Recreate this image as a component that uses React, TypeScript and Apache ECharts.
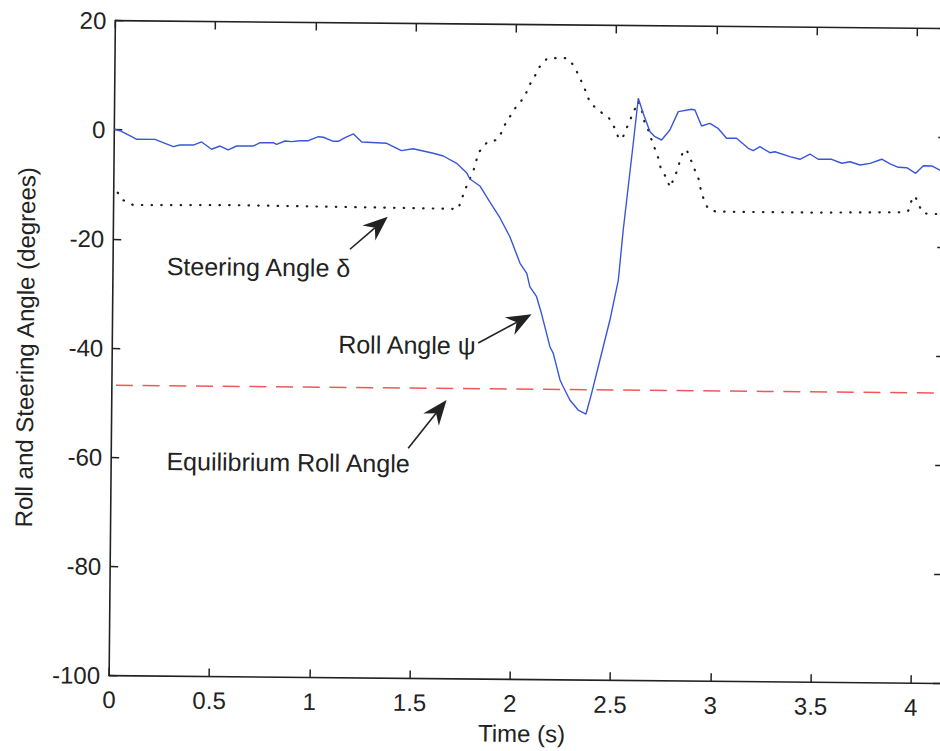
import React, { useEffect, useRef } from 'react';
import * as echarts from 'echarts';

const FONT = "'Liberation Sans', Arial, Helvetica, sans-serif";

// Roll angle ψ (solid blue)
const rollTime = [0, 0.028, 0.087, 0.112, 0.203, 0.295, 0.328, 0.395, 0.436, 0.486, 0.528, 0.569, 0.611, 0.694, 0.728, 0.793, 0.81, 0.852, 0.885, 0.926, 0.968, 1.018, 1.043, 1.093, 1.118, 1.151, 1.193, 1.235, 1.359, 1.433, 1.491, 1.592, 1.642, 1.709, 1.759, 1.776, 1.826, 1.877, 1.928, 1.978, 2.03, 2.064, 2.08, 2.114, 2.139, 2.183, 2.2, 2.235, 2.251, 2.285, 2.327, 2.366, 2.393, 2.433, 2.481, 2.521, 2.543, 2.589, 2.612, 2.637, 2.672, 2.697, 2.73, 2.771, 2.812, 2.879, 2.895, 2.929, 2.97, 3.011, 3.054, 3.104, 3.163, 3.188, 3.221, 3.271, 3.296, 3.371, 3.421, 3.471, 3.512, 3.579, 3.63, 3.671, 3.721, 3.771, 3.829, 3.871, 3.912, 3.954, 3.999, 4.037, 4.079, 4.117, 4.15];
const rollAngle = [0.1, -0.16, -1.24, -1.71, -1.68, -2.99, -2.68, -2.66, -2.08, -3.4, -2.79, -3.5, -2.76, -2.73, -2.1, -2.09, -2.4, -1.76, -1.87, -1.68, -1.66, -0.91, -1.01, -1.73, -1.72, -1.05, -0.35, -1.82, -2.0, -3.33, -2.95, -3.75, -4.23, -5.55, -7.25, -8.4, -9.66, -12.58, -15.49, -18.9, -23.75, -25.58, -28.02, -29.85, -32.88, -38.98, -40.19, -45.07, -46.29, -48.71, -50.53, -51.25, -47.45, -41.33, -33.99, -26.65, -17.48, -1.57, 6.68, 3.94, 0.58, -0.33, -0.92, 0.93, 4.3, 4.76, 4.64, 1.72, 2.22, 1.32, -0.49, -0.48, -2.29, -2.72, -1.98, -3.06, -2.87, -3.75, -4.21, -3.23, -4.18, -4.16, -4.87, -4.57, -5.16, -4.83, -4.06, -4.91, -5.51, -5.57, -6.58, -5.17, -5.21, -5.93, -6.4];

// Steering angle δ (dotted black)
const steerTime = [0.02, 0.048, 0.098, 0.6, 1.2, 1.719, 1.736, 1.752, 1.773, 1.793, 1.806, 1.821, 1.861, 1.908, 1.925, 1.948, 1.976, 2.006, 2.047, 2.063, 2.092, 2.112, 2.156, 2.206, 2.256, 2.283, 2.311, 2.332, 2.354, 2.371, 2.418, 2.467, 2.497, 2.514, 2.532, 2.552, 2.571, 2.592, 2.612, 2.63, 2.643, 2.663, 2.68, 2.698, 2.716, 2.728, 2.757, 2.774, 2.794, 2.812, 2.824, 2.842, 2.859, 2.879, 2.899, 2.92, 2.928, 2.944, 2.966, 3.005, 3.5, 3.922, 3.963, 3.977, 3.997, 4.017, 4.04, 4.09, 4.15];
const steerAngle = [-11.5, -12.9, -13.75, -13.6, -13.75, -13.9, -12.1, -10.4, -8.6, -6.9, -5.1, -3.4, -1.6, -1.2, -0.3, 1.6, 3.3, 5.1, 6.8, 8.6, 10.3, 12.0, 13.85, 13.9, 13.9, 12.8, 11.0, 9.3, 7.5, 5.8, 4.3, 3.0, 1.1, -0.5, -0.9, 0.9, 2.6, 4.4, 6.1, 4.5, 2.5, 0.9, -0.9, -2.6, -4.4, -6.2, -7.9, -9.6, -7.9, -6.2, -4.4, -2.6, -3.0, -4.7, -6.5, -8.3, -10.0, -11.8, -13.5, -13.95, -13.95, -13.75, -13.5, -11.8, -10.7, -12.5, -13.9, -14.0, -14.0];

// Equilibrium roll angle (dashed red)
const eqTime = [0.02, 4.15];
const eqAngle = [-46.8, -46.8];

// Axis settings
const xMin = 0;
const xMax = 4.15;
const xStep = 0.5;
const yMin = -100;
const yMax = 20;
const yStep = 20;

// Annotations: label, label anchor [t, v], arrow start [t, v], arrow tip [t, v]
const annotationLabels = ['Steering Angle δ', 'Roll Angle ψ', 'Equilibrium Roll Angle'];
const annotationAnchors = [[0.268, -24.87], [1.127, -38.87], [0.276, -60.6]];
const arrowStarts = [[1.181, -21.48], [1.825, -38.43], [1.481, -57.85]];
const arrowTips = [[1.368, -15.45], [2.09, -33.08], [1.67, -48.93]];

const INK = '#222';

export default function App() {
  const ref = useRef<HTMLDivElement>(null);

  useEffect(() => {
    if (!ref.current) return;
    const chart = echarts.init(ref.current, null, { renderer: 'svg' });

    const roll = rollTime.map((t, i) => [t, rollAngle[i]]);
    const steer = steerTime.map((t, i) => [t, steerAngle[i]]);
    const eq = eqTime.map((t, i) => [t, eqAngle[i]]);

    const textStyle = { fontFamily: FONT, fontSize: 24, color: INK, lineHeight: 24 };
    const tickFmt = (v: number) => (Math.abs(v / xStep - Math.round(v / xStep)) < 1e-6 ? String(v) : '');

    const axisLine = { show: true, onZero: false, lineStyle: { color: INK, width: 1.6 } };
    const axisTick = { show: true, inside: true, length: 8, lineStyle: { color: INK, width: 1.5 } };

    chart.setOption({
      animation: false,
      backgroundColor: '#fff',
      grid: { left: 112, top: 24, width: 832, height: 655, containLabel: false },
      xAxis: [
        {
          type: 'value', position: 'bottom', min: xMin, max: xMax, interval: xStep,
          axisLine, axisTick, splitLine: { show: false },
          axisLabel: { ...textStyle, margin: 12, formatter: tickFmt, showMaxLabel: false },
          name: 'Time (s)', nameLocation: 'middle', nameGap: 42,
          nameTextStyle: { ...textStyle, padding: [0, 6, 0, 0] },
        },
        {
          type: 'value', position: 'top', min: xMin, max: xMax, interval: xStep,
          axisLine, axisTick, splitLine: { show: false }, axisLabel: { show: false },
        },
      ],
      yAxis: [
        {
          type: 'value', position: 'left', min: yMin, max: yMax, interval: yStep,
          axisLine, axisTick, splitLine: { show: false },
          axisLabel: { ...textStyle, margin: 9 },
          name: 'Roll and Steering Angle (degrees)', nameLocation: 'middle', nameGap: 75,
          nameTextStyle: textStyle,
        },
        {
          type: 'value', position: 'right', min: yMin, max: yMax, interval: yStep,
          axisLine, axisTick, splitLine: { show: false }, axisLabel: { show: false },
        },
      ],
      series: [
        {
          name: 'Equilibrium Roll Angle', type: 'line', data: eq, showSymbol: false, symbol: 'none',
          xAxisIndex: 0, yAxisIndex: 0, silent: true,
          lineStyle: { color: '#ee5858', width: 1.5, type: [17, 9.7] },
        },
        {
          name: 'Steering Angle', type: 'line', data: steer, showSymbol: false, symbol: 'none',
          xAxisIndex: 0, yAxisIndex: 0, silent: true,
          lineStyle: { color: '#1e1e1e', width: 2.2, type: [0.5, 9.2], cap: 'round' },
        },
        {
          name: 'Roll Angle', type: 'line', data: roll, showSymbol: false, symbol: 'none',
          xAxisIndex: 0, yAxisIndex: 0, silent: true,
          lineStyle: { color: '#3a56d8', width: 1.4 },
        },
      ],
    });

    const toPx = (p: number[]) =>
      chart.convertToPixel({ xAxisIndex: 0, yAxisIndex: 0 } as any, p) as number[];

    const elements: any[] = [];
    annotationLabels.forEach((label, i) => {
      const a = toPx(annotationAnchors[i]);
      elements.push({
        type: 'text', x: a[0], y: a[1], silent: true,
        style: {
          text: label, fill: INK, fontSize: 25, fontFamily: FONT,
          textAlign: 'left', align: 'left', textVerticalAlign: 'middle', verticalAlign: 'middle',
        },
      });
      const s = toPx(arrowStarts[i]);
      const t = toPx(arrowTips[i]);
      const dx = t[0] - s[0];
      const dy = t[1] - s[1];
      const len = Math.hypot(dx, dy);
      const ux = dx / len;
      const uy = dy / len;
      const nx = -uy;
      const ny = ux;
      const L = 25;
      const W = 10;
      const notch = 17;
      elements.push({
        type: 'line', silent: true,
        shape: { x1: s[0], y1: s[1], x2: t[0] - ux * notch, y2: t[1] - uy * notch },
        style: { stroke: INK, lineWidth: 1.6 },
      });
      elements.push({
        type: 'polygon', silent: true,
        shape: {
          points: [
            [t[0], t[1]],
            [t[0] - ux * L + nx * W, t[1] - uy * L + ny * W],
            [t[0] - ux * notch, t[1] - uy * notch],
            [t[0] - ux * L - nx * W, t[1] - uy * L - ny * W],
          ],
        },
        style: { fill: INK },
      });
    });
    chart.setOption({ graphic: { elements } });

    return () => chart.dispose();
  }, []);

  return (
    <div style={{ position: 'fixed', left: 0, top: 0, width: 940, height: 751, overflow: 'hidden', background: '#fff' }}>
      <div
        ref={ref}
        style={{
          position: 'absolute', left: 0, top: 0, width: 960, height: 751,
          transform: 'rotate(0.545deg)', transformOrigin: '470px 375.5px',
        }}
      />
    </div>
  );
}
